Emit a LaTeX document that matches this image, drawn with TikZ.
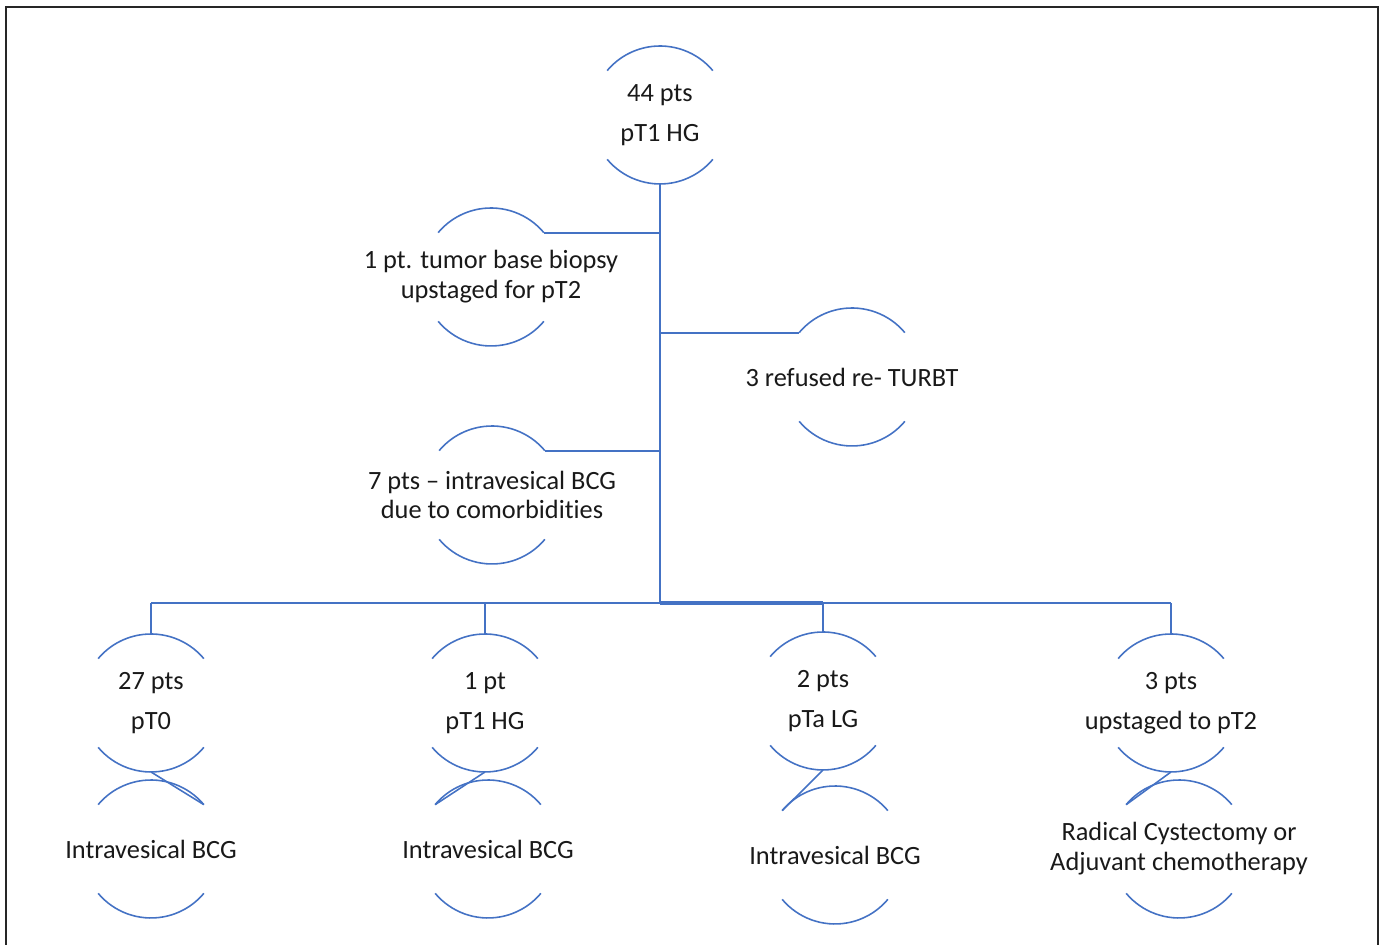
\documentclass[tikz,border=0pt]{standalone}
\usepackage{fontspec}
\setmainfont{Carlito}[Ligatures=NoCommon]
\usetikzlibrary{positioning,calc}
\definecolor{lineblue}{RGB}{68,114,196}

\begin{document}
\begin{tikzpicture}[x=0.02cm,y=0.02cm,
  ring/.style={circle, minimum size=2.76cm, inner sep=0pt, outer sep=0pt},
  txt/.style={align=center, font=\fontsize{15}{17}\selectfont, text=black!90},
  link/.style={draw=lineblue, line width=1.1pt},
  rim/.style={draw=lineblue, line width=0.9pt}]

\useasboundingbox (0,0) rectangle (1382,945);
% Frame
\draw[line width=1.2pt, black!85] (6,-5) |- (1378,938) -- (1378,-5);

% Top
\node[ring, label={[txt]center:{44 pts\\[5.5pt]pT1 HG}}] (top) at (660,830) {};

% Side branches
\node[ring, label={[txt]center:{1 pt. tumor base biopsy\\upstaged for pT2}}] (biopsy) at (491,668) {};
\node[ring, label={[txt]center:{3 refused re- TURBT}}] (refused) at (852,568) {};
\node[ring, label={[txt]center:{7 pts -- intravesical BCG\\due to comorbidities}}] (bcg) at (492,450) {};

% Re-TURBT results
\node[ring, label={[txt]center:{27 pts\\[5.5pt]pT0}}] (pt0) at (151,242) {};
\node[ring, label={[txt]center:{1 pt\\[5.5pt]pT1 HG}}] (pt1) at (485,242) {};
\node[ring, label={[txt]center:{2 pts\\[5.5pt]pTa LG}}] (pta) at (823,244) {};
\node[ring, label={[txt]center:{3 pts\\[5.5pt]upstaged to pT2}}] (pt2) at (1171,242) {};

% Treatment
\node[ring, label={[txt]center:{Intravesical BCG}}] (bcg1) at (151,96) {};
\node[ring, label={[txt]center:{Intravesical BCG}}] (bcg2) at (488,96) {};
\node[ring, label={[txt]center:{Intravesical BCG}}] (bcg3) at (835,90) {};
\node[ring, label={[txt]center:{Radical Cystectomy or\\Adjuvant chemotherapy}}] (rc) at (1179,96) {};

% Arcs
\foreach \n in {top,biopsy,refused,bcg,pt0,pt1,pta,pt2,bcg1,bcg2,bcg3,rc}
  \draw[rim] (\n.40) arc[start angle=40, end angle=140, radius=1.38cm]
             (\n.220) arc[start angle=220, end angle=320, radius=1.38cm];

% Connections
\coordinate (hub) at (660,342);
\draw[link] (top.south) -- (hub);
\draw[link] (biopsy.40) -- (biopsy.40 -| top);
\draw[link] (refused.140) -- (refused.140 -| top);
\draw[link] (bcg.40) -- (bcg.40 -| top);
\draw[link] (hub -| pt0) -- (hub -| pt2);
\draw[link, line width=2pt] (hub) -- (hub -| pta);
\foreach \n in {pt0,pt1,pta,pt2}
  \draw[link] (\n.north) -- (\n.north |- hub);
\draw[rim] (pt0.south) -- (bcg1.40);
\draw[rim] (pt1.south) -- (bcg2.140);
\draw[rim] (pta.south) -- (bcg3.140);
\draw[rim] (pt2.south) -- (rc.140);

\end{tikzpicture}
\end{document}
